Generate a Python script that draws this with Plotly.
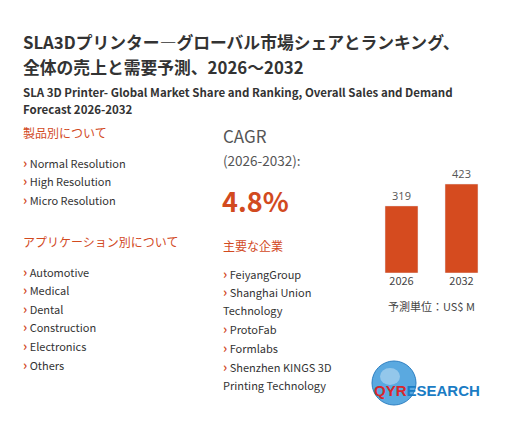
import plotly.graph_objects as go

years = ["2026", "2032"]
values = [319, 423]
product_types = ["Normal Resolution", "High Resolution", "Micro Resolution"]
applications = ["Automotive", "Medical", "Dental", "Construction", "Electronics", "Others"]
companies = [["FeiyangGroup"], ["Shanghai Union", "Technology"], ["ProtoFab"],
             ["Formlabs"], ["Shenzhen KINGS 3D", "Printing Technology"]]
cagr = "4.8%"

W, H = 525, 435
OFF = 8
RED = "#d24a1f"
DARK = "#333333"
FONT = "Noto Sans CJK JP, Noto Sans, sans-serif"

fig = go.Figure(go.Bar(x=years, y=values, marker_color="#d54b1f", width=0.55,
                       text=[str(v) for v in values], textposition="outside",
                       textfont=dict(size=11, color="#555"), cliponaxis=False))

def py(p):
    return 1 - (p - OFF) / H
def px(p):
    return (p - OFF) / W

ann = []
def txt(x, y, s, size=11, color=DARK, bold=False, anchor="left"):
    if bold:
        s = "<b>" + s + "</b>"
    ann.append(dict(x=px(x), y=py(y), xref="paper", yref="paper", text=s, showarrow=False,
                    xanchor=anchor, yanchor="middle", align="left",
                    font=dict(size=size, color=color, family=FONT)))

BUL = f"<b><span style='color:{RED};font-size:13px'>›</span></b> "

txt(21, 42, "SLA3Dプリンター―グローバル市場シェアとランキング、", 16.8, DARK, True)
txt(21, 67, "全体の売上と需要予測、2026～2032", 16.8, DARK, True)
txt(21, 92, "SLA 3D Printer- Global Market Share and Ranking, Overall Sales and Demand", 11.5, DARK, True)
txt(21, 109, "Forecast 2026-2032", 11.5, DARK, True)

txt(21, 133, "製品別について", 12, RED)
for i, s in enumerate(product_types):
    txt(21, 162 + i * 18.6, BUL + s, 11)
txt(21, 242, "アプリケーション別について", 12, RED)
for i, s in enumerate(applications):
    txt(21, 271 + i * 18.6, BUL + s, 11)

txt(221, 135, "CAGR", 17, "#555")
txt(221, 160, "(2026-2032):", 13.5, "#555")
txt(220, 200, cagr, 27, RED, True)
txt(221, 245, "主要な企業", 12, RED)
yy = 273
for lines in companies:
    for j, s in enumerate(lines):
        txt(221, yy, (BUL if j == 0 else "") + s, 11)
        yy += 18.6

txt(431, 306, "予測単位：US$ M", 11, "#444", anchor="center")

# logo
fig.add_shape(type="circle", xref="paper", yref="paper",
              x0=px(372), x1=px(416), y0=py(405), y1=py(361),
              fillcolor="#5aa9e0", line=dict(color="#2d7fc2", width=1), layer="below")
fig.add_shape(type="circle", xref="paper", yref="paper",
              x0=px(380), x1=px(400), y0=py(385), y1=py(368),
              fillcolor="#ffffff", opacity=0.35, line=dict(width=0), layer="below")
ann.append(dict(x=px(372), y=py(390), xref="paper", yref="paper", showarrow=False,
                xanchor="left", yanchor="middle",
                text="<b><span style='color:#d8262b'>QYR</span><span style='color:#1a7cc4'>ESEARCH</span></b>",
                font=dict(size=15, color="#1a7cc4", family="Liberation Sans")))

fig.update_layout(
    width=W, height=H, margin=dict(l=0, r=0, t=0, b=0),
    paper_bgcolor="white", plot_bgcolor="white", showlegend=False,
    annotations=ann,
    xaxis=dict(domain=[px(371.5), px(491.5)], showgrid=False, showline=False, ticks="",
               tickfont=dict(size=11, color="#444", family=FONT)),
    yaxis=dict(domain=[py(273), py(273 - 105.2)], range=[0, 500], visible=False),
)
fig.write_html("out.html")
